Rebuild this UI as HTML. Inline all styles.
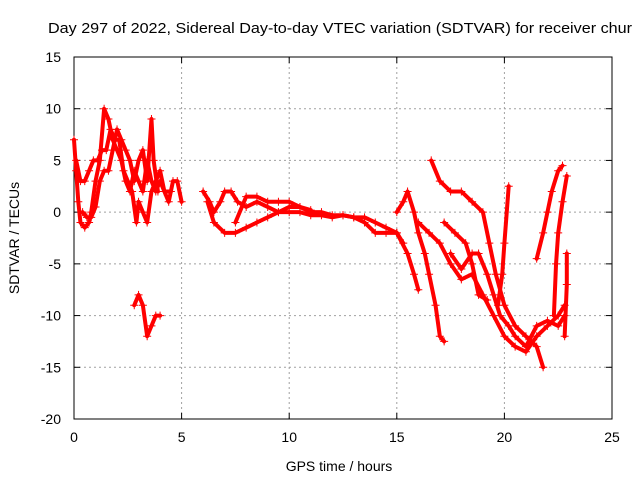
<!DOCTYPE html>
<html><head><meta charset="utf-8"><style>
html,body{margin:0;padding:0;background:#fff;}
svg{display:block;font-family:"Liberation Sans",sans-serif;}
</style></head><body>
<svg id="chart" width="640" height="480" viewBox="0 0 640 480" xmlns="http://www.w3.org/2000/svg">
<rect x="0" y="0" width="640" height="480" fill="#fff"/>
<g id="grid"></g>
<g id="axes"></g>
<g id="series"></g>
<text x="48" y="33" font-size="15" textLength="584" lengthAdjust="spacingAndGlyphs" fill="#000">Day 297 of 2022, Sidereal Day-to-day VTEC variation (SDTVAR) for receiver chur</text>
<text x="339" y="471" font-size="14" text-anchor="middle" fill="#000">GPS time / hours</text>
<text x="19" y="238" font-size="14" text-anchor="middle" fill="#000" transform="rotate(-90 19 238)">SDTVAR / TECUs</text>
</svg>
<script>
const xTicks = [0, 5, 10, 15, 20, 25];
const yTicks = [15, 10, 5, 0, -5, -10, -15, -20];
const traceA1 = [[0.0,7],[0.1,4],[0.2,1],[0.3,-1],[0.5,-1.5],[0.7,-1],[0.8,0],[1.0,3],[1.2,5],[1.4,10],[1.6,9],[1.8,7],[2.0,6],[2.2,5],[2.4,3],[2.6,2],[2.8,4],[3.0,3],[3.2,2],[3.4,5],[3.6,3],[3.8,2],[4.0,3],[4.2,2],[4.5,2]];
const traceA2 = [[0.1,5],[0.3,3],[0.5,3],[0.7,4],[0.9,5],[1.1,5],[1.3,6],[1.5,6],[1.7,8],[1.9,7],[2.1,7],[2.3,4],[2.5,3],[2.7,2],[2.9,-1],[3.0,1],[3.2,0],[3.4,-1],[3.6,2],[3.8,3],[4.0,4],[4.2,2],[4.4,1],[4.6,3],[4.8,3],[5.0,1]];
const traceA3 = [[0.4,0],[0.6,-0.5],[0.8,-0.5],[1.0,0.5],[1.2,3],[1.4,4],[1.6,4],[1.8,6],[2.0,8],[2.2,7],[2.4,6],[2.6,5],[2.8,3],[3.0,5],[3.2,6],[3.4,3],[3.6,9],[3.7,5],[3.9,2]];
const traceA4 = [[2.8,-9],[3.0,-8],[3.2,-9],[3.4,-12],[3.6,-11],[3.8,-10],[4.0,-10]];
const traceB1 = [[6,2],[6.3,1],[6.5,0],[6.8,1],[7.0,2],[7.3,2],[7.6,1],[8,0.5],[8.5,1],[9,0.5],[9.5,0],[10,0.5],[10.5,0.5],[11,0],[11.5,0],[12,-0.3],[12.5,-0.3],[13,-0.5],[13.5,-0.5],[14,-1],[14.5,-1.5],[15,-2],[15.3,-3]];
const traceB2 = [[6.2,1],[6.5,-1],[7,-2],[7.5,-2],[8,-1.5],[8.5,-1],[9,-0.5],[9.5,0],[10,0],[10.5,0],[11,-0.3],[11.5,-0.3],[12,-0.5],[12.5,-0.3],[13,-0.5],[13.5,-1],[14,-2],[14.5,-2],[15,-2],[15.5,-4],[15.8,-6],[16.0,-7.5]];
const traceB3 = [[7.5,-1],[8,1.5],[8.5,1.5],[9,1],[9.5,1],[10,1],[10.5,0.5],[11,0.2]];
const traceC1 = [[15,0],[15.3,1],[15.5,2],[15.8,0],[16,-2],[16.3,-4],[16.5,-6],[16.8,-9],[17,-12],[17.2,-12.5]];
const traceC2 = [[16,-1],[16.5,-2],[17,-3],[17.5,-5],[18,-6.5],[18.5,-6],[19,-8],[19.5,-10],[20,-12],[20.5,-13],[21,-13.5],[21.5,-12],[22,-11],[22.5,-10],[22.8,-9]];
const traceC3 = [[16.6,5],[17,3],[17.5,2],[18,2],[18.5,1],[19,0],[19.3,-3],[19.6,-6],[20,-9],[20.5,-11],[21,-12],[21.5,-13],[21.8,-15]];
const traceC4 = [[17.5,-4],[18,-5.5],[18.5,-4],[18.8,-4],[19.2,-6],[19.5,-8],[19.8,-10],[20.2,-11],[20.5,-12],[21,-13],[21.5,-11],[22,-10.5],[22.5,-11],[22.8,-10]];
const traceC5 = [[17.2,-1],[17.7,-2],[18.2,-3],[18.5,-5],[18.8,-8],[19.2,-8.5]];
const traceD1 = [[19.7,-9],[19.9,-6],[20.0,-3],[20.2,2.5]];
const traceD2 = [[21.5,-4.5],[21.8,-2],[22,0],[22.2,2],[22.5,4],[22.7,4.5]];
const traceD3 = [[22.3,-10],[22.4,-5],[22.5,-2],[22.7,1],[22.9,3.5]];
const traceD4 = [[22.8,-12],[22.9,-7],[22.9,-4]];
const traces = [traceA1,traceA2,traceA3,traceA4,traceB1,traceB2,traceB3,traceC1,traceC2,traceC3,traceC4,traceC5,traceD1,traceD2,traceD3,traceD4];

const L=74,R=612,T=57,B=419, xMin=0,xMax=25,yMin=-20,yMax=15;
const sx = v => L + (v - xMin) / (xMax - xMin) * (R - L);
const sy = v => B - (v - yMin) / (yMax - yMin) * (B - T);
const NS='http://www.w3.org/2000/svg';
const grid=document.getElementById('grid'), axes=document.getElementById('axes'), series=document.getElementById('series');
function mk(tag, attrs, parent){const e=document.createElementNS(NS,tag);for(const k in attrs)e.setAttribute(k,attrs[k]);parent.appendChild(e);return e;}

xTicks.forEach(t=>{
  const x=sx(t);
  if(t>xMin&&t<xMax){const g=mk('line',{x1:x,y1:T,x2:x,y2:B,stroke:'#a0a0a0','stroke-dasharray':'2,3','stroke-width':1},grid);
  
  }
  mk('line',{x1:x,y1:B,x2:x,y2:B-6,stroke:'#000'},axes);
  mk('line',{x1:x,y1:T,x2:x,y2:T+6,stroke:'#000'},axes);
  const lb=mk('text',{x:x,y:B+23,'font-size':14,'text-anchor':'middle'},axes);lb.textContent=t;
  
  
});
yTicks.forEach(t=>{
  const y=sy(t);
  if(t>yMin&&t<yMax){const g=mk('line',{x1:L,y1:y,x2:R,y2:y,stroke:'#a0a0a0','stroke-dasharray':'2,3','stroke-width':1},grid);
  
  }
  mk('line',{x1:L,y1:y,x2:L+6,y2:y,stroke:'#000'},axes);
  mk('line',{x1:R,y1:y,x2:R-6,y2:y,stroke:'#000'},axes);
  const lb=mk('text',{x:L-13,y:y+5,'font-size':14,'text-anchor':'end'},axes);lb.textContent=t;
  
  
});
const frame=mk('rect',{x:L,y:T,width:R-L,height:B-T,fill:'none',stroke:'#000'},axes);



traces.forEach(tr=>{
  const pl=mk('polyline',{points:tr.map(p=>sx(p[0])+','+sy(p[1])).join(' '),fill:'none',stroke:'#f00','stroke-width':4,'stroke-linejoin':'round','stroke-linecap':'round'},series);
  
  
  let d='';
  tr.forEach(p=>{const x=sx(p[0]),y=sy(p[1]);d+=`M${x-4},${y}h8M${x},${y-4}v8`;});
  const m=mk('path',{d:d,stroke:'#f00','stroke-width':1,fill:'none'},series);
  
  
});
</script>
</body></html>
